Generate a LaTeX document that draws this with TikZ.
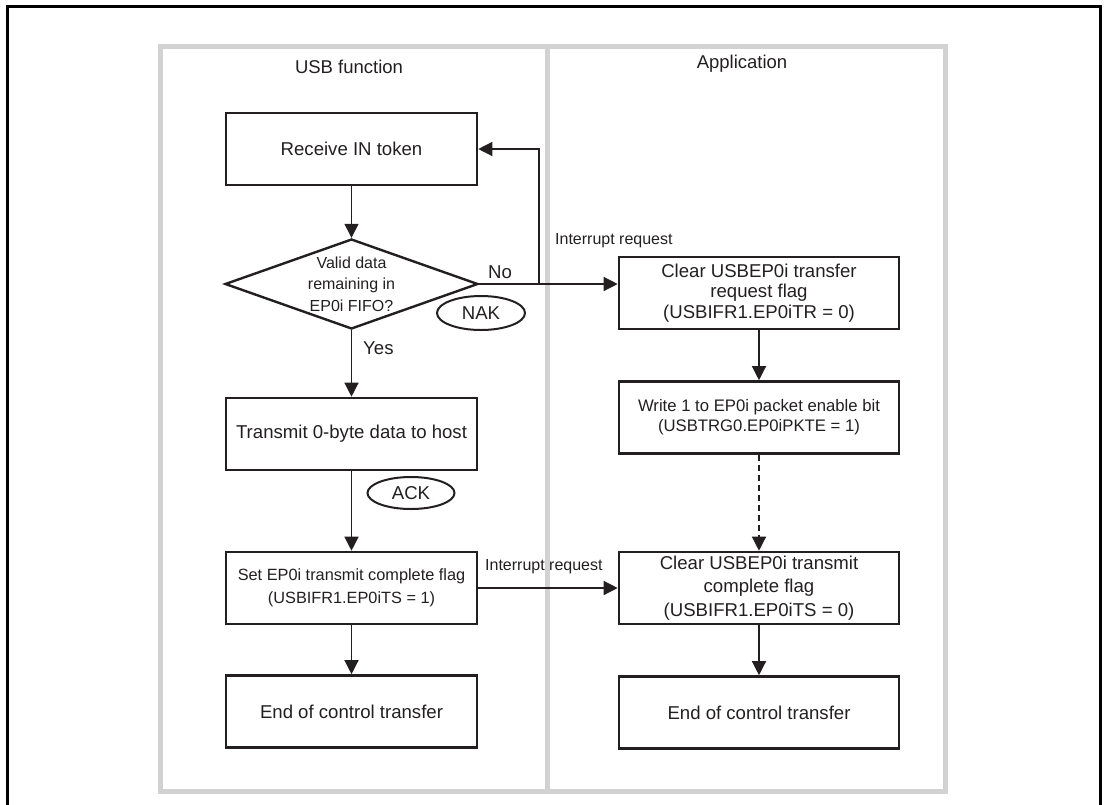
\documentclass[tikz,border=0pt]{standalone}
\usepackage{fontspec}
\setmainfont{Liberation Sans}
\usetikzlibrary{arrows.meta,shapes.geometric}
\definecolor{ink}{RGB}{35,31,32}
\definecolor{frameg}{RGB}{210,210,210}
\begin{document}
\begin{tikzpicture}[x=1pt,y=-1pt,
  box/.style={draw=ink,line width=2.6pt,minimum width=251pt,minimum height=72pt,inner sep=0pt,align=center,text=ink,font=\fontsize{18.6}{20.5}\selectfont},
  rbox/.style={box,minimum width=280pt},
  decbox/.style={draw=ink,line width=2.4pt,shape=diamond,aspect=2.875,minimum width=253pt,minimum height=90pt,inner sep=0pt,align=center,text=ink,font=\fontsize{16}{21.5}\selectfont},
  flow/.style={draw=ink,line width=1.3pt,-{Triangle[length=14pt,width=14pt]}},
  lbl/.style={text=ink,inner sep=0pt,font=\fontsize{16}{18}\selectfont},
  biglbl/.style={text=ink,inner sep=0pt,font=\fontsize{18.6}{20}\selectfont},
  hs/.style={draw=ink,line width=2pt,ellipse,inner sep=0pt,text=ink,font=\fontsize{18.6}{20}\selectfont},
  title/.style={text=ink,inner sep=0pt,font=\fontsize{18.5}{20}\selectfont}
]
\useasboundingbox (0,0) rectangle (1104,804);
% outer black frame
\draw[line width=3pt,black] (7,806) -- (7,6) -- (1100,6) -- (1100,806);
% gray lanes
\draw[frameg,line width=5pt] (160,46) rectangle (945,791);
\draw[frameg,line width=5pt] (547.5,46) -- (547.5,791);
% titles
\node[title] (t1) at (349,67) {USB function};
\node[title] (t2) at (742,64) {Application};
% left column
\node[box] (rin) at (351.5,149) {Receive IN token};
\node[decbox] (dec) at (351.5,284) {Valid data\\remaining in\\EP0i FIFO?};
\node[box] (tx) at (351.5,434) {Transmit 0-byte data to host};
\node[box,font=\fontsize{16.3}{22.7}\selectfont] (set) at (351.5,588) {Set EP0i transmit complete flag\\(USBIFR1.EP0iTS = 1)};
\node[box] (endl) at (351.5,711.5) {End of control transfer};
% right column
\node[rbox] (clr) at (759,293) {Clear USBEP0i transfer\\request flag\\(USBIFR1.EP0iTR = 0)};
\node[rbox,font=\fontsize{16.7}{20}\selectfont] (wr) at (759,417.5) {Write 1 to EP0i packet enable bit\\(USBTRG0.EP0iPKTE = 1)};
\node[rbox,font=\fontsize{18.6}{23.5}\selectfont] (clt) at (759,588) {Clear USBEP0i transmit\\complete flag\\(USBIFR1.EP0iTS = 0)};
\node[rbox] (endr) at (759,712.5) {End of control transfer};
% handshakes
\node[hs,minimum width=88pt,minimum height=34pt] (nak) at (481,313) {NAK};
\node[hs,minimum width=87pt,minimum height=32pt] (ack) at (411,493) {ACK};
% labels
\node[biglbl] (no) at (500,272) {No};
\node[biglbl,anchor=west] (yes) at (363,348) {Yes};
\node[lbl,anchor=west] (ir1) at (555,241) {Interrupt request};
\node[lbl,anchor=west] (ir2) at (485,567) {Interrupt request};
% connectors
\coordinate (loop) at (539,284);
\path[flow] (rin) -- (dec);
\path[flow] (dec.east) -- (clr.west |- dec.east);
\path[flow] (loop) |- (rin.east);
\path[flow] (dec) -- (tx);
\path[flow] (tx) -- (set);
\path[flow] (set) -- (endl);
\path[flow] (set.east) -- (clt.west |- set.east);
\path[flow] (clr) -- (wr);
\path[flow,dash pattern=on 6pt off 4pt] (wr) -- (clt);
\path[flow] (clt) -- (endr);
\end{tikzpicture}
\end{document}
